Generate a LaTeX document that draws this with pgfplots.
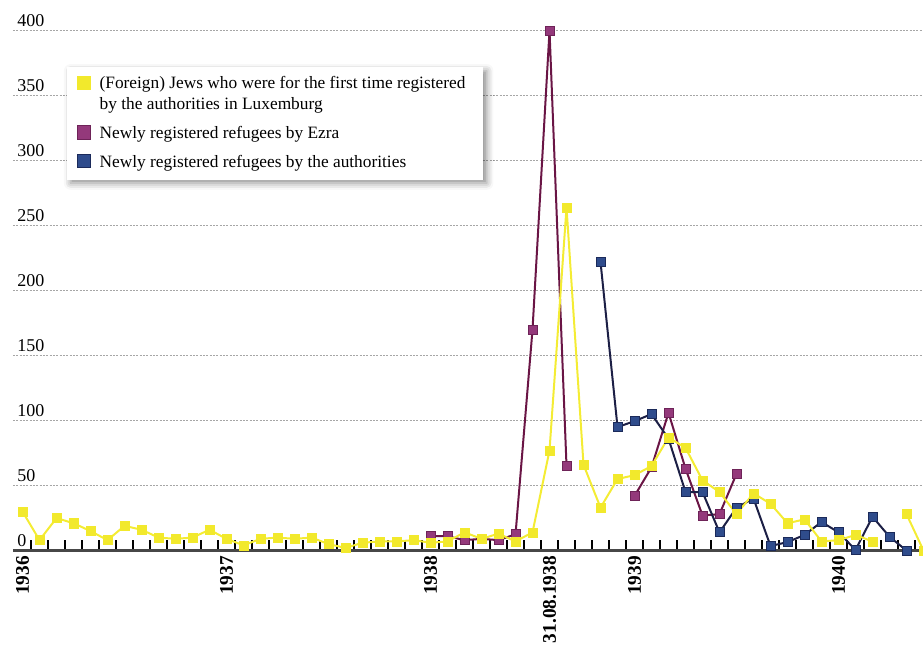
\documentclass[border=0pt]{standalone}
\usepackage{fontspec}
\setmainfont{Liberation Serif}
\usepackage{pgfplots}
\usepackage{pgfplotstable}
\pgfplotsset{compat=1.18}
\usetikzlibrary{shadows.blur}

\definecolor{cyel}{HTML}{F2E92C}
\definecolor{cyelL}{HTML}{F4EC34}
\definecolor{cpur}{HTML}{94397B}
\definecolor{cpurD}{HTML}{6E2358}
\definecolor{cpurL}{HTML}{6A1545}
\definecolor{cnav}{HTML}{2F4C8C}
\definecolor{cnavD}{HTML}{1B2A5A}
\definecolor{cnavL}{HTML}{1C1F45}

\pgfplotstableread{
k v
0 30
1 8
2 25
3 21
4 15
5 8
6 19
7 16
8 10
9 9
10 10
11 16
12 9
13 4
14 9
15 10
16 9
17 10
18 5
19 2
20 6
21 7
22 7
23 8
24 6
25 7
26 14
27 9
28 13
29 7
30 14
31 77
32 264
33 66
34 33
35 55
36 58
37 65
38 87
39 79
40 54
41 45
42 28
43 44
44 36
45 21
46 24
47 7
48 8
49 12
50 7
51 nan
52 28
53 0
}\tyel

\pgfplotstableread{
k v
24 11
25 11
26 8
27 9
28 8
29 12.5
30 170
31 400
32 65
33 nan
36 42
37 64
38 106
39 63
40 27
41 28
42 59
}\tpur

\pgfplotstableread{
k v
34 222
35 95
36 99.5
37 105
38 86
39 45
40 45
41 14
42 33
43 40
44 3.5
45 6.5
46 12
47 22
48 14
49 0.5
50 26
51 10.6
52 0
}\tnav

\pgfplotsset{
  yelS/.style={color=cyelL, line width=1.5pt, mark=square*, mark size=3.4pt,
    mark options={solid, fill=cyel, draw=cyel, line width=0.4pt}},
  purS/.style={color=cpurL, line width=1.5pt, mark=square*, mark size=3.4pt,
    mark options={solid, fill=cpur, draw=cpurD, line width=0.6pt}},
  navS/.style={color=cnavL, line width=1.5pt, mark=square*, mark size=3.4pt,
    mark options={solid, fill=cnav, draw=cnavD, line width=0.6pt}},
}

\begin{document}
\begin{tikzpicture}
\begin{axis}[
  name=ax,
  x=12.75pt, y=0.975pt,
  xmin=-0.56, xmax=52.97, ymin=0, ymax=423.5,
  clip=false,
  axis x line*=bottom, axis y line*=left,
  y axis line style={draw=none},
  x axis line style={line width=2.6pt, draw=black!72, -},
  xtick={0.5,1.5,...,52.5}, xticklabels={},
  tick align=inside, major tick length=8pt,
  xtick style={line width=1pt, black},
  ytick={0,50,...,400}, ytick style={draw=none},
  ymajorgrids,
  major grid style={dash pattern=on 1.5pt off 1pt, gray!70, line width=0.5pt},
  extra x ticks={0,12,24,31,36,48},
  extra x tick labels={1936,1937,1938,31.08.1938,1939,1940},
  extra x tick style={major tick length=0pt, grid=none},
  xticklabel style={rotate=90, anchor=east, inner sep=0pt, font=\fontsize{14.5}{16}\selectfont\bfseries},
  xticklabel shift=4pt,
  yticklabel style={anchor=south west, inner sep=0pt, xshift=3pt, yshift=3pt, font=\fontsize{13.5}{16}\selectfont},
  /pgf/number format/assume math mode=true,
  unbounded coords=jump,
  legend image code/.code={\draw[#1, mark size=4.9pt] plot coordinates {(0pt,4.5pt)};},
  legend style={
    at={(0.0593,0.878)}, anchor=north west,
    draw=none, fill=white,
    blur shadow={shadow xshift=2.5pt, shadow yshift=-2.5pt, shadow blur radius=5pt, shadow opacity=45},
    inner xsep=7.5pt, inner ysep=6pt,
    row sep=0pt, column sep=5pt,
    cells={anchor=base west, inner sep=2pt, text depth=0pt},
    font=\fontsize{13}{15.6}\selectfont,
  },
]
\addlegendimage{yelS}
\addlegendentry{\raisebox{0pt}[7.75pt][0pt]{\begin{tabular}[t]{@{}l@{\hspace{4pt}}}(Foreign) Jews who were for the first time registered\\by the authorities in Luxemburg\end{tabular}}}
\addlegendimage{purS}
\addlegendentry{\rule{0pt}{32pt}Newly registered refugees by Ezra}
\addlegendimage{navS}
\addlegendentry{\rule{0pt}{16pt}Newly registered refugees by the authorities}

\addplot[purS, forget plot] table[x=k, y=v] {\tpur};
\addplot[navS, forget plot] table[x=k, y=v] {\tnav};
\addplot[yelS, forget plot] table[x=k, y=v] {\tyel};
\end{axis}
\pgfresetboundingbox
\path ([xshift=-9.75pt, yshift=-70.1pt]ax.south west) rectangle (ax.north east);
\end{tikzpicture}
\end{document}
